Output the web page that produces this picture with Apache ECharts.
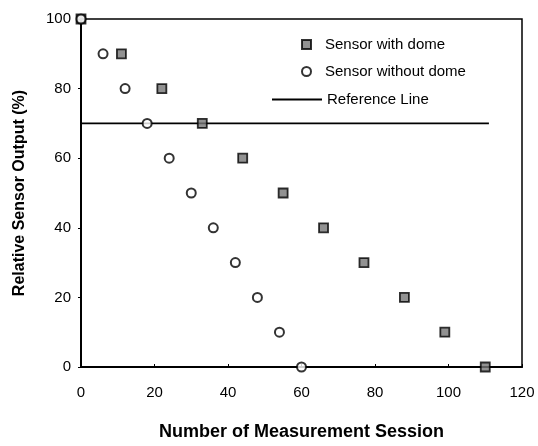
<!DOCTYPE html>
<html>
<head>
<meta charset="utf-8">
<script src="https://cdn.jsdelivr.net/npm/echarts@6/dist/echarts.min.js"></script>
<style>html,body{margin:0;padding:0;background:#fff}#c{width:538px;height:446px}</style>
</head>
<body>
<div id="c"></div>
<script>
const withDomeX = [0, 11, 22, 33, 44, 55, 66, 77, 88, 99, 110];
const withDomeY = [100, 90, 80, 70, 60, 50, 40, 30, 20, 10, 0];
const withoutDomeX = [0, 6, 12, 18, 24, 30, 36, 42, 48, 54, 60];
const withoutDomeY = [100, 90, 80, 70, 60, 50, 40, 30, 20, 10, 0];
const refLineX = [0, 111];
const refLineY = [70, 70];
const xTicks = [0, 20, 40, 60, 80, 100, 120];
const yTicks = [0, 20, 40, 60, 80, 100];

const zip = (a, b) => a.map((v, i) => [v, b[i]]);
const font = 'Liberation Sans, Arial, sans-serif';
const legText = { fontFamily: font, fontSize: 15, color: '#000' };

const chart = echarts.init(document.getElementById('c'));
chart.setOption({
  animation: false,
  backgroundColor: '#fff',
  grid: { left: 81, right: 16, top: 19, bottom: 75, show: true, borderColor: '#000', borderWidth: 1.5 },
  legend: [
    {
      left: 296, top: 32, itemWidth: 9, itemHeight: 9, icon: 'rect',
      textStyle: Object.assign({ padding: [0, 0, 0, 9] }, legText),
      data: ['Sensor with dome']
    },
    {
      left: 296, top: 59, itemWidth: 9, itemHeight: 9, icon: 'circle',
      textStyle: Object.assign({ padding: [0, 0, 0, 9] }, legText),
      data: ['Sensor without dome']
    },
    {
      left: 267, top: 87, itemWidth: 50, itemHeight: 2, icon: 'rect',
      textStyle: Object.assign({ padding: [0, 0, 0, 0] }, legText),
      data: ['Reference Line']
    }
  ],
  xAxis: {
    type: 'value', min: 0, max: 120, interval: 20,
    name: 'Number of Measurement Session', nameLocation: 'middle', nameGap: 56,
    nameTextStyle: { fontFamily: font, fontSize: 18, fontWeight: 'bold', color: '#000' },
    axisLine: { show: true, lineStyle: { color: '#000', width: 2 } },
    axisTick: { show: true, inside: true, length: 3, lineStyle: { color: '#000' } },
    axisLabel: { fontFamily: font, fontSize: 15, color: '#000', margin: 18 },
    splitLine: { show: false }
  },
  yAxis: {
    type: 'value', min: 0, max: 100, interval: 20,
    name: 'Relative Sensor Output (%)', nameLocation: 'middle', nameGap: 53,
    nameTextStyle: { fontFamily: font, fontSize: 16, fontWeight: 'bold', color: '#000' },
    axisLine: { show: true, lineStyle: { color: '#000', width: 2 } },
    axisTick: { show: true, length: 3, lineStyle: { color: '#000' } },
    axisLabel: { fontFamily: font, fontSize: 15, color: '#000', margin: 10 },
    splitLine: { show: false }
  },
  series: [
    {
      name: 'Sensor with dome', type: 'scatter', symbol: 'rect', symbolSize: 9,
      itemStyle: { color: '#777', borderColor: '#000', borderWidth: 1.8 },
      data: zip(withDomeX, withDomeY), z: 4
    },
    {
      name: 'Sensor without dome', type: 'scatter', symbol: 'circle', symbolSize: 9,
      itemStyle: { color: '#fff', borderColor: '#000', borderWidth: 2 },
      data: zip(withoutDomeX, withoutDomeY), z: 5
    },
    {
      name: 'Reference Line', type: 'line', symbol: 'none',
      lineStyle: { color: '#000', width: 1.8 }, itemStyle: { color: '#000' },
      data: zip(refLineX, refLineY), z: 3
    }
  ]
});
</script>
</body>
</html>
